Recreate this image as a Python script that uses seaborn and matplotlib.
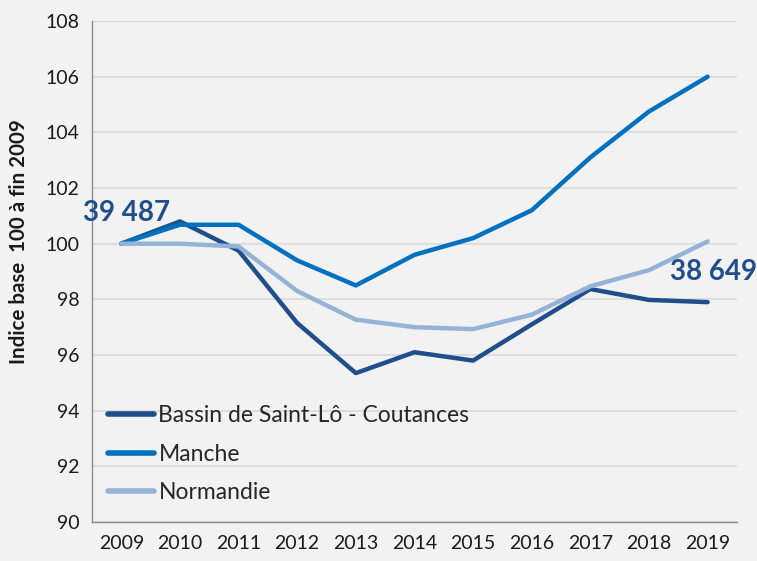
import matplotlib
matplotlib.use("Agg")
import matplotlib.pyplot as plt
import seaborn as sns
import pandas as pd
import numpy as np

years = [2009, 2010, 2011, 2012, 2013, 2014, 2015, 2016, 2017, 2018, 2019]
bassin = [100.0, 100.8, 99.75, 97.15, 95.35, 96.1, 95.8, 97.1, 98.37, 97.98, 97.9]
manche = [100.0, 100.68, 100.68, 99.4, 98.5, 99.6, 100.2, 101.2, 103.1, 104.75, 106.0]
normandie = [100.0, 100.0, 99.9, 98.3, 97.27, 97.0, 96.93, 97.45, 98.47, 99.05, 100.08]
series_names = ["Bassin de Saint-Lô - Coutances", "Manche", "Normandie"]
colors = ["#1F4E8A", "#0070C0", "#95B3D7"]
label_start = "39 487"
label_end = "38 649"

sns.set_theme(style="white")
plt.rcParams['font.family'] = ['Lato', 'DejaVu Sans']

df = pd.DataFrame({
    "year": years * 3,
    "value": bassin + manche + normandie,
    "series": [series_names[0]] * 11 + [series_names[1]] * 11 + [series_names[2]] * 11,
})

fig = plt.figure(figsize=(7.57, 5.61), dpi=100, facecolor="#F2F2F2")
ax = fig.add_axes([0.1215, 0.0695, 0.852, 0.893])
ax.set_facecolor("#F2F2F2")

sns.lineplot(data=df, x="year", y="value", hue="series", palette=colors,
             hue_order=series_names, linewidth=3.2, ax=ax, legend=True)
for line in ax.lines:
    line.set_solid_capstyle("round")

ax.set_xlim(2008.5, 2019.5)
ax.set_ylim(90, 108)
ax.set_yticks(np.arange(90, 109, 2))
ax.set_xticks(years)
ax.set_xticks([y + 0.5 for y in years[:-1]] + [2008.5, 2019.5], minor=True)
ax.tick_params(axis="x", which="major", length=0, pad=9, labelsize=14, colors="#1a1a1a")
ax.tick_params(axis="x", which="minor", length=5, width=1, color="#8c8c8c", direction="out")
ax.tick_params(axis="y", which="major", length=5, width=1, color="#8c8c8c", direction="out",
               labelsize=14, labelcolor="#1a1a1a", pad=4)
ax.yaxis.grid(True, color="#D9D9D9", linewidth=1.2)
ax.set_axisbelow(True)
for s in ["top", "right"]:
    ax.spines[s].set_visible(False)
for s in ["left", "bottom"]:
    ax.spines[s].set_color("#8c8c8c")
    ax.spines[s].set_linewidth(1)

ax.set_xlabel("")
ax.set_ylabel("Indice base  100 à fin 2009", fontsize=14.8, fontweight="bold", color="#1a1a1a")
ax.yaxis.set_label_coords(-0.098, 0.559)

ax.text(years[0] - 0.65, 100.8, label_start, fontsize=20, fontweight="bold", color="#1F4E8A",
        ha="left", va="baseline")
ax.text(years[-1] - 0.65, 98.7, label_end, fontsize=20, fontweight="bold", color="#1F4E8A",
        ha="left", va="baseline")

leg = ax.legend(loc="lower left", bbox_to_anchor=(0.0, 0.006), frameon=False, fontsize=16.5,
                handlelength=2.0, handletextpad=0.2, labelspacing=0.76, borderaxespad=0.3)
for h in leg.get_lines():
    h.set_linewidth(4)

fig.savefig("out.png", dpi=100, facecolor="#F2F2F2")
